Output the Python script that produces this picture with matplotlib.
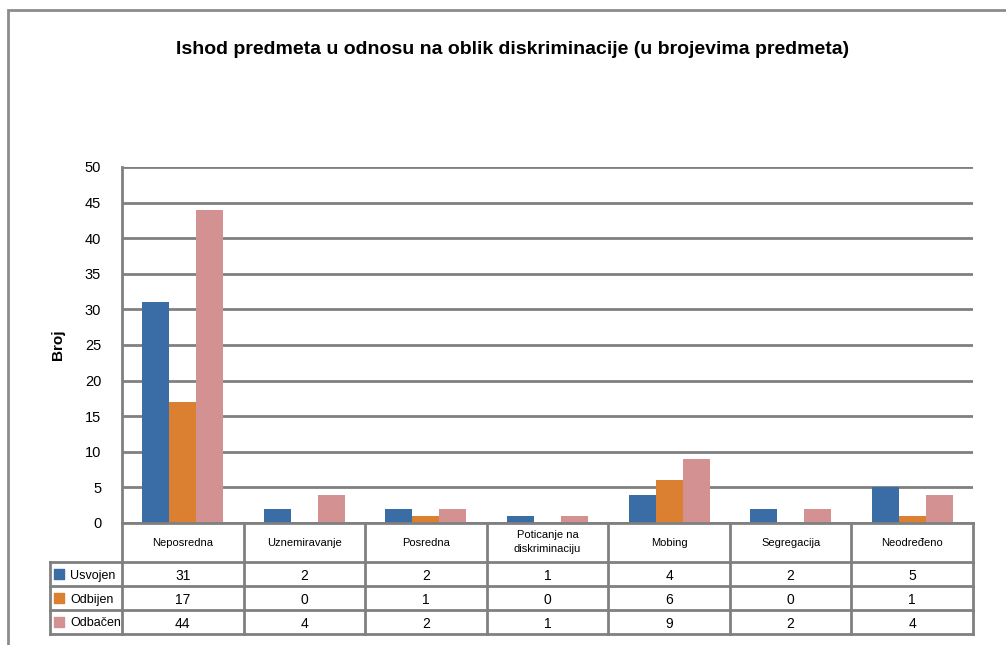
import matplotlib.pyplot as plt
import numpy as np
from matplotlib.patches import Rectangle

plt.rcParams['font.family'] = ['Liberation Sans', 'DejaVu Sans']

categories = ['Neposredna', 'Uznemiravanje', 'Posredna', 'Poticanje na\ndiskriminaciju',
              'Mobing', 'Segregacija', 'Neodređeno']
series_names = ['Usvojen', 'Odbijen', 'Odbačen']
usvojen = [31, 2, 2, 1, 4, 2, 5]
odbijen = [17, 0, 1, 0, 6, 0, 1]
odbacen = [44, 4, 2, 1, 9, 2, 4]
colors = ['#3A6DA6', '#DB8030', '#D49191']
yticks = [0, 5, 10, 15, 20, 25, 30, 35, 40, 45, 50]

W, H = 1006, 645
fig = plt.figure(figsize=(W / 100, H / 100), dpi=100)
grid_c = '#808080'

# outer frame of the chart area
fig.patches.append(Rectangle((8 / W, -0.1), 1.2, 1 - 10 / H + 0.1, transform=fig.transFigure,
                             fill=False, edgecolor='#8c8c8c', linewidth=2))

# plot area
x0, x1 = 122, 973
y_top, y_bot = 167, 523
ax = fig.add_axes([x0 / W, 1 - y_bot / H, (x1 - x0) / W, (y_bot - y_top) / H])
n = len(categories)
x = np.arange(n)
bw = 0.222
for i, vals in enumerate([usvojen, odbijen, odbacen]):
    ax.bar(x + (i - 1) * bw, vals, width=bw, color=colors[i], zorder=3)
ax.set_xlim(-0.5, n - 0.5)
ax.set_ylim(0, 50)
ax.set_yticks(yticks)
ax.set_xticks([])
ax.grid(axis='y', color=grid_c, linewidth=2, zorder=0)
for s in ['top', 'right', 'bottom']:
    ax.spines[s].set_visible(False)
ax.spines['left'].set_color(grid_c)
ax.spines['left'].set_linewidth(2)
ax.tick_params(axis='y', length=0, pad=15, labelsize=10.5)
ax.set_ylabel('Broj', fontsize=11, fontweight='bold', labelpad=14)

fig.text(513 / W, 1 - 50 / H, 'Ishod predmeta u odnosu na oblik diskriminacije (u brojevima predmeta)',
         ha='center', va='center', fontsize=14, fontweight='bold')

# data table below the plot, drawn by hand
t_left, t_bot = 50, 634
tax = fig.add_axes([t_left / W, 1 - t_bot / H, (x1 - t_left) / W, (t_bot - y_bot) / H])
tax.set_axis_off()
lw_units = (x0 - t_left) / ((x1 - x0) / n)
tax.set_xlim(-0.5 - lw_units, n - 0.5)
hdr = 39
rows_h = [24, 24, 24]
total = hdr + sum(rows_h)
tax.set_ylim(0, total)
lk = dict(color=grid_c, linewidth=2, clip_on=False, solid_capstyle='projecting')

# header row
for j in range(n + 1):
    tax.plot([j - 0.5, j - 0.5], [0, total], **lk)
tax.plot([-0.5, n - 0.5], [total, total], **lk)
tax.plot([-0.5 - lw_units, -0.5 - lw_units], [0, total - hdr], **lk)
for j, cat in enumerate(categories):
    tax.text(j, total - hdr / 2, cat, ha='center', va='center', fontsize=8, linespacing=1.5)

# data rows
for i, vals in enumerate([usvojen, odbijen, odbacen]):
    top = total - hdr - sum(rows_h[:i])
    tax.plot([-0.5 - lw_units, n - 0.5], [top, top], **lk)
    yc = top - rows_h[i] / 2
    tax.scatter([-0.5 - lw_units * 0.87], [yc], marker='s', s=42, color=colors[i], zorder=5,
                clip_on=False)
    tax.text(-0.5 - lw_units * 0.72, yc, series_names[i], ha='left', va='center_baseline',
             fontsize=9)
    for j, v in enumerate(vals):
        tax.text(j, yc, str(v), ha='center', va='center_baseline', fontsize=10)
tax.plot([-0.5 - lw_units, n - 0.5], [0, 0], **lk)

fig.savefig('out.png', dpi=100)
